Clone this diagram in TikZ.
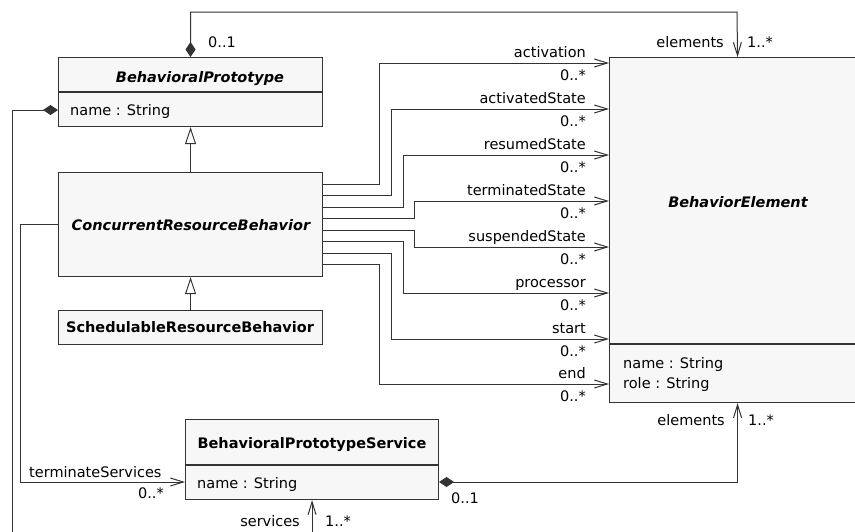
\documentclass[tikz,border=0pt]{standalone}
\usepackage{fontspec}
\setmainfont{DejaVu Sans}[BoldFont={DejaVu Sans Bold},ItalicFont={DejaVu Sans Oblique},BoldItalicFont={DejaVu Sans Bold Oblique}]
\usetikzlibrary{arrows.meta}
\definecolor{ln}{HTML}{333333}
\definecolor{bx}{HTML}{F7F7F7}
\begin{document}
\begin{tikzpicture}[x=1pt,y=-1pt,
  every node/.style={font=\fontsize{14.5}{17}\selectfont, inner sep=0pt, text height=10.6pt, text depth=0pt, text=black},
  classbox/.style={draw=ln, fill=bx, line width=1.1pt, anchor=north west},
  sep/.style={draw=ln, line width=1.1pt},
  wire/.style={draw=ln, line width=1pt},
  assoc/.style={wire, -{Straight Barb[length=13pt,width=8pt]}},
  compo/.style={wire, {Diamond[length=15pt,width=10pt]}-},
  compoassoc/.style={wire, {Diamond[length=15pt,width=10pt]}-{Straight Barb[length=13pt,width=8pt]}},
  gen/.style={wire, -{Triangle[open,length=17pt,width=11pt,fill=white]}},
  title/.style={font=\fontsize{14.5}{17}\selectfont\bfseries\itshape},
  ctitle/.style={font=\fontsize{14.5}{17}\selectfont\bfseries},
  lbl/.style={anchor=east},
  lblw/.style={anchor=west}]
\useasboundingbox (0,0) rectangle (855,531);
\fill[white] (0,0) rectangle (855,531);
\clip (0,0) rectangle (855,531);

% boxes
\node[classbox, minimum width=264pt, minimum height=69pt] (bp) at (58,57) {};
\node[classbox, minimum width=264pt, minimum height=104pt] (crb) at (58,172) {};
\node[classbox, minimum width=264pt, minimum height=34pt] (srb) at (58,310) {};
\node[classbox, minimum width=256pt, minimum height=345pt] (be) at (609,57) {};
\node[classbox, minimum width=253pt, minimum height=80pt] (bps) at (185,419) {};

% dividers
\draw[sep] (bp.west |- 0,92) -- (bp.east |- 0,92);
\draw[sep] (be.west |- 0,344) -- (be.east |- 0,344);
\draw[sep] (bps.west |- 0,465) -- (bps.east |- 0,465);

% class texts
\node[title] (bpt) at (200,77) {BehavioralPrototype};
\node[anchor=west] (bpa) at (70,110) {name : String};
\node[title] (crbt) at (191,225) {ConcurrentResourceBehavior};
\node[ctitle] (srbt) at (190,327) {SchedulableResourceBehavior};
\node[title] (bet) at (738,202) {BehaviorElement};
\node[anchor=west] (bea1) at (623,363) {name : String};
\node[anchor=west] (bea2) at (623,383) {role : String};
\node[ctitle] (bpst) at (312,443) {BehavioralPrototypeService};
\node[anchor=west] (bpsa) at (197,483) {name : String};

% generalizations
\draw[gen] (crb.north) -- (bp.south);
\draw[gen] (srb.north) -- (crb.south);

% top composition
\draw[compoassoc] (bp.north) |- (737,12) -- (be.north);
\node[lblw] (m01a) at (208,42) {0..1};
\node[lbl] (elta) at (724,42) {elements};
\node[lblw] (m1a) at (747,42) {1..*};

% left composition
\draw[compo] (bp.west |- 0,110) -| (12,545);

% associations CRB -> BE
\draw[assoc] (crb.east |- 0,184) -| (379,63) -- (be.west |- 0,63);
\draw[assoc] (crb.east |- 0,195) -| (391,109) -- (be.west |- 0,109);
\draw[assoc] (crb.east |- 0,207) -| (403,155) -- (be.west |- 0,155);
\draw[assoc] (crb.east |- 0,218) -| (414,201) -- (be.west |- 0,201);
\draw[assoc] (crb.east |- 0,230) -| (414,247) -- (be.west |- 0,247);
\draw[assoc] (crb.east |- 0,241) -| (403,293) -- (be.west |- 0,293);
\draw[assoc] (crb.east |- 0,253) -| (391,339) -- (be.west |- 0,339);
\draw[assoc] (crb.east |- 0,264) -| (379,384) -- (be.west |- 0,384);

\node[lbl] (r1) at (586,52) {activation};      \node[lbl] (k1) at (586,75) {0..*};
\node[lbl] (r2) at (586,98) {activatedState};  \node[lbl] (k2) at (586,121) {0..*};
\node[lbl] (r3) at (586,144) {resumedState};   \node[lbl] (k3) at (586,167) {0..*};
\node[lbl] (r4) at (586,190) {terminatedState};\node[lbl] (k4) at (586,213) {0..*};
\node[lbl] (r5) at (586,236) {suspendedState}; \node[lbl] (k5) at (586,259) {0..*};
\node[lbl] (r6) at (586,282) {processor};      \node[lbl] (k6) at (586,305) {0..*};
\node[lbl] (r7) at (586,328) {start};          \node[lbl] (k7) at (586,351) {0..*};
\node[lbl] (r8) at (586,373) {end};            \node[lbl] (k8) at (586,396) {0..*};

% terminateServices
\draw[assoc] (crb.west) -| (20,482) -- (bps.west |- 0,482);
\node[lblw] (ts) at (29,472) {terminateServices};
\node[lbl] (tsm) at (164,493) {0..*};

% bottom composition
\draw[compoassoc] (bps.east |- 0,482) -| (be.south);
\node[lblw] (m01b) at (451,498) {0..1};
\node[lbl] (eltb) at (725,420) {elements};
\node[lblw] (m1b) at (748,420) {1..*};

% services
\draw[assoc] (bps.south |- 0,545) -- (bps.south);
\node[lbl] (sv) at (300,521) {services};
\node[lblw] (svm) at (325,521) {1..*};
\end{tikzpicture}
\end{document}
